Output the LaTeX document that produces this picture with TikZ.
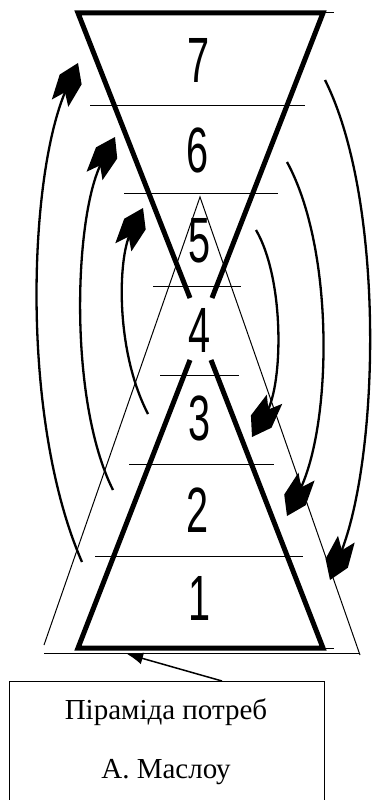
\documentclass[tikz,border=0pt]{standalone}
\usepackage{fontspec}
\setmainfont{Liberation Serif}
\newfontfamily\digitfont[FakeStretch=0.62]{Liberation Sans}
\usetikzlibrary{arrows.meta,calc}
\newcommand\cychead[2]{%
  \coordinate (h1) at ($(#1)!18pt!(#2)$);
  \coordinate (h2) at ($(#1)!44pt!(#2)$);
  \coordinate (h3) at ($(#1)!32pt!(#2)$);
  \fill (#1) -- ($(h1)!12pt!90:(#1)$) -- ($(h2)!9pt!90:(#1)$) -- (h3)
    -- ($(h2)!9pt!-90:(#1)$) -- ($(h1)!12pt!-90:(#1)$) -- cycle;}
\begin{document}
\begin{tikzpicture}[x=1pt,y=-1pt,
  thickline/.style={line width=5pt,line join=miter},
  thinline/.style={line width=1pt},
  cycarrow/.style={line width=2.3pt,shorten >=28pt},
  lvl/.style={inner sep=0pt,font=\digitfont\fontsize{64}{64}\selectfont},
  labelbox/.style={draw,line width=1pt,minimum width=315pt,minimum height=140pt,inner sep=0pt,anchor=north west}
]
\useasboundingbox (0,0) rectangle (374,800);
% thick inverted triangle (top)
\draw[thickline] (212,298) -- (323,13) -- (78,13) -- (190,298);
\draw[thinline] (323,13) -- (334,13);
% thick triangle (bottom)
\draw[thickline] (190,360) -- (78,648) -- (323,648) -- (211,360);
\draw[thinline] (323,648) -- (334,648);
% thin large triangle
\coordinate (apex) at (200,197);
\draw[thinline] (44,645) -- (apex) -- (360,655);
\draw[thinline] (44,653) -- (360,653);
% level lines
\draw[thinline] (90,105) -- (305,105);
\draw[thinline] (124,193) -- (278,193);
\draw[thinline] (153,286) -- (241,286);
\draw[thinline] (160,375) -- (239,375);
\draw[thinline] (129,464) -- (274,464);
\draw[thinline] (95,556) -- (303,556);
% numbers
\node[lvl] (n7) at (199,60) {7};
\node[lvl] (n6) at (198,150) {6};
\node[lvl] (n5) at (200,241) {5};
\node[lvl] (n4) at (200,330) {4};
\node[lvl] (n3) at (200,418) {3};
\node[lvl] (n2) at (198,510) {2};
\node[lvl] (n1) at (200,598) {1};
% curved arrows left (upward)
\coordinate (la1) at (82,562); \coordinate (lb1) at (78,63); \coordinate (lc1) at (28,175);
\coordinate (la2) at (113,490); \coordinate (lb2) at (115,137); \coordinate (lc2) at (74,215);
\coordinate (la3) at (148,414); \coordinate (lb3) at (143,208); \coordinate (lc3) at (118,258);
\draw[cycarrow] (la1) .. controls (20,420) and (lc1) .. (lb1);
\draw[cycarrow] (la2) .. controls (68,400) and (lc2) .. (lb2);
\draw[cycarrow] (la3) .. controls (115,350) and (lc3) .. (lb3);
\cychead{lb1}{lc1}
\cychead{lb2}{lc2}
\cychead{lb3}{lc3}
% curved arrows right (downward)
\coordinate (ra1) at (325,80); \coordinate (rb1) at (330,580); \coordinate (rc1) at (380,455);
\coordinate (ra2) at (287,162); \coordinate (rb2) at (287,516); \coordinate (rc2) at (332,425);
\coordinate (ra3) at (256,230); \coordinate (rb3) at (252,437); \coordinate (rc3) at (283,385);
\draw[cycarrow] (ra1) .. controls (385,200) and (rc1) .. (rb1);
\draw[cycarrow] (ra2) .. controls (335,250) and (rc2) .. (rb2);
\draw[cycarrow] (ra3) .. controls (285,280) and (rc3) .. (rb3);
\cychead{rb1}{rc1}
\cychead{rb2}{rc2}
\cychead{rb3}{rc3}
% label box
\node[labelbox] (box) at (9,681) {};
\node[font=\fontsize{29}{29}\selectfont] (t1) at (166,712) {Піраміда потреб};
\node[font=\fontsize{29}{29}\selectfont] (t2) at (166,772) {А. Маслоу};
\coordinate (ps) at (222,681);
\coordinate (pt) at (127,654);
\draw[line width=1.5pt,-{Latex[length=16pt,width=12pt]}] (ps) -- (pt);
\end{tikzpicture}
\end{document}
